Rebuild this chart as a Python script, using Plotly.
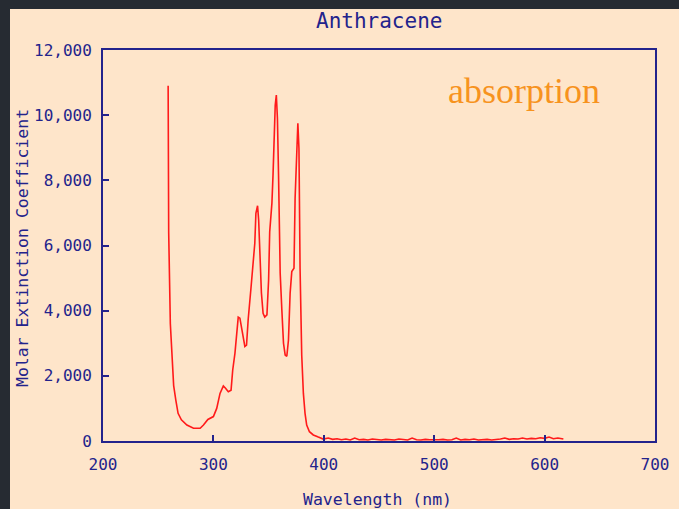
import plotly.graph_objects as go

# ---- data ----
wavelength_nm = [
    259, 259.5, 261, 263, 264, 266, 268, 271, 276, 282, 288, 291, 295, 300,
    303, 306, 309, 311, 313.5, 316, 317.5, 319.5, 321, 322.5, 324, 325.5,
    327, 328.5, 330, 331.5, 334, 335.5, 337.5, 338.5, 340, 341, 342, 343.5,
    345, 346.5, 348.5, 350, 351, 353, 354, 355, 356, 357, 358, 359, 360.5,
    362, 363.5, 365, 366.5, 368, 369.5, 371, 373, 374, 375.5, 376.5, 377.5,
    378.5, 380, 381.5, 383, 384.5, 387, 390.5, 395, 399.5,
    404, 408, 412, 416, 420, 424, 428, 432, 436, 440, 444, 448, 452, 456,
    460, 464, 468, 472, 476, 480, 484, 488, 492, 496, 500, 504, 508, 512,
    516, 520, 524, 528, 532, 536, 540, 544, 548, 552, 556, 560, 564, 568,
    572, 576, 580, 584, 588, 592, 596, 600, 604, 608, 612, 617,
]
molar_extinction = [
    10900, 6400, 3600, 2300, 1700, 1250, 850, 650, 490, 390, 390, 490, 660, 750,
    1000, 1460, 1690, 1620, 1510, 1560, 2180, 2690, 3150, 3800, 3770, 3510,
    3200, 2900, 2940, 3730, 4680, 5300, 6070, 6990, 7220, 6780, 5760, 4540,
    3920, 3800, 3870, 4940, 6420, 7300, 8160, 9540, 10300, 10620, 9900, 8160, 5150,
    4020, 3000, 2640, 2600, 3100, 4540, 5200, 5300, 7450, 9140, 9750, 8980,
    5300, 2640, 1460, 850, 490, 285, 185, 120, 60,
    90, 50, 70, 40, 60, 30, 90, 40, 50, 30, 60, 40, 30, 50,
    40, 30, 60, 40, 30, 90, 40, 30, 50, 40, 30, 40, 50, 30,
    40, 90, 30, 50, 40, 60, 30, 40, 50, 30, 40, 60, 90, 50,
    70, 60, 90, 60, 80, 70, 100, 80, 120, 70, 90, 60, 80, 50,
]

x_ticks = [200, 300, 400, 500, 600, 700]
y_ticks = [0, 2000, 4000, 6000, 8000, 10000, 12000]
y_tick_text = ["0", "2,000", "4,000", "6,000", "8,000", "10,000", "12,000"]

title_text = "Anthracene"
x_title = "Wavelength (nm)"
y_title = "Molar Extinction Coefficient"
note_text = "absorption"

# ---- styling ----
W, H = 679, 509
L, R, T, B = 103, 655, 50, 441
NAVY = "#23238c"
PEACH = "#fee5ca"
DARK = "#262b32"
MONO = "DejaVu Sans Mono, Liberation Mono, monospace"

pw, ph = R - L, B - T
def px(xp):
    return (xp - L) / pw
def py(yp):
    return (B - yp) / ph

fig = go.Figure()
fig.add_trace(go.Scatter(
    x=wavelength_nm, y=molar_extinction, mode="lines",
    line=dict(color="#ff1a1a", width=1.6), hoverinfo="skip", showlegend=False,
))

axis_common = dict(
    showgrid=False, zeroline=False, showline=True, linecolor=NAVY, linewidth=2,
    mirror=True, ticks="inside", ticklen=6, tickwidth=1.5, tickcolor=NAVY,
    tickfont=dict(family=MONO, size=16, color=NAVY),
)

fig.update_layout(
    width=W, height=H,
    margin=dict(l=L, r=W - R, t=T, b=H - B, pad=0, autoexpand=False),
    paper_bgcolor=DARK, plot_bgcolor=PEACH,
    xaxis=dict(range=[200, 700], tickvals=x_ticks,
               ticktext=[str(v) for v in x_ticks], ticklabelstandoff=8,
               **axis_common),
    yaxis=dict(range=[0, 12000], tickvals=y_ticks, ticktext=y_tick_text,
               ticklabelstandoff=6, **axis_common),
    shapes=[dict(type="rect", xref="paper", yref="paper", layer="below",
                 x0=px(10), x1=px(W + 5), y0=py(H + 5), y1=py(9),
                 fillcolor=PEACH, line=dict(width=0))],
    annotations=[
        dict(text=title_text, xref="paper", yref="paper", x=px(379), y=py(21),
             xanchor="center", yanchor="middle", showarrow=False,
             font=dict(family=MONO, size=21, color=NAVY)),
        dict(text=x_title, xref="paper", yref="paper", x=px(377), y=py(499),
             xanchor="center", yanchor="middle", showarrow=False,
             font=dict(family=MONO, size=16.5, color=NAVY)),
        dict(text=y_title, xref="paper", yref="paper", x=px(22), y=py(248),
             xanchor="center", yanchor="middle", showarrow=False, textangle=-90,
             font=dict(family=MONO, size=16.5, color=NAVY)),
        dict(text=note_text, xref="paper", yref="paper", x=px(524), y=py(91),
             xanchor="center", yanchor="middle", showarrow=False,
             font=dict(family="Liberation Serif, Times New Roman, serif",
                       size=36, color="#f7931e")),
    ],
)

fig.write_html("out.html")
